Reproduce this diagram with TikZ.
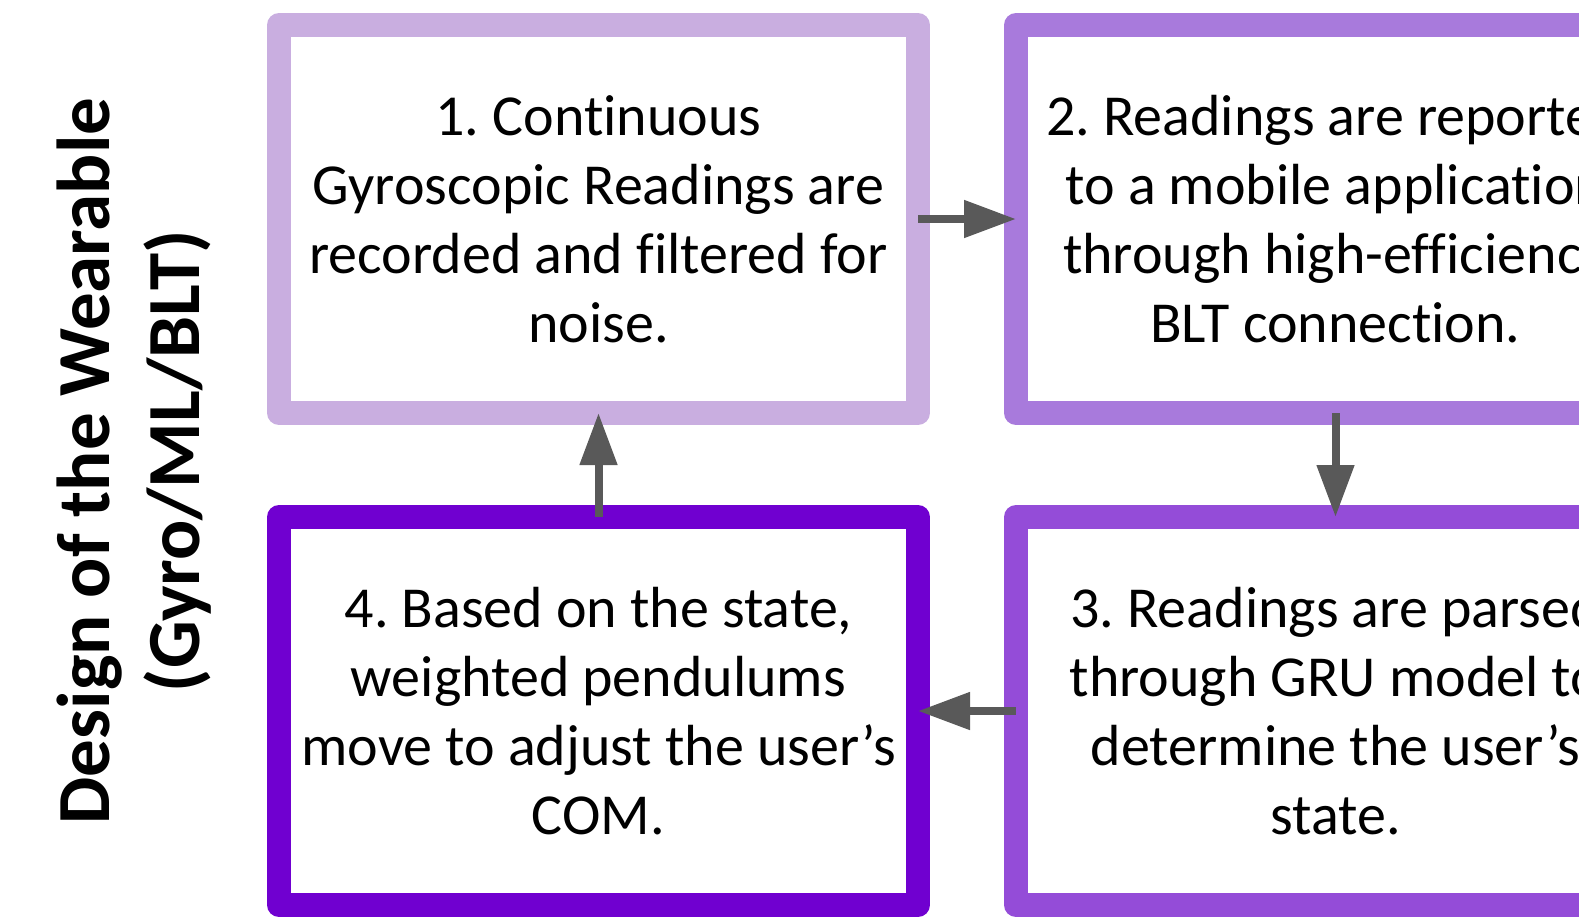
\documentclass[tikz,border=0pt]{standalone}
\usepackage{fontspec}
\setmainfont[Ligatures=NoCommon]{Carlito}
\usetikzlibrary{arrows.meta}
\frenchspacing
\definecolor{cA}{RGB}{201,174,224}
\definecolor{cB}{RGB}{168,122,220}
\definecolor{cC}{RGB}{148,76,216}
\definecolor{cD}{RGB}{112,0,208}
\definecolor{arr}{RGB}{89,89,89}
\tikzset{
  stepbox/.style={draw, line width=24pt, line join=round, outer sep=0pt,
    minimum width=639pt, minimum height=388pt, inner sep=0pt,
    align=center, font=\fontsize{58}{69}\selectfont},
  flow/.style={draw=arr, line width=8pt,
    -{Triangle[width=36pt,length=52pt]}, fill=arr}
}
\begin{document}
\begin{tikzpicture}[x=1pt,y=-1pt]
\useasboundingbox (0,0) rectangle (1579,919);
\clip (0,0) rectangle (1579,919);
\node[stepbox, draw=cA] (b1) at (598.5,219) {1. Continuous\\Gyroscopic Readings are\\recorded and filtered for\\noise.};
\node[stepbox, draw=cB] (b2) at (1335.5,219) {2. Readings are reported\\to a mobile application\\through high-efficiency\\BLT connection.};
\node[stepbox, draw=cC] (b3) at (1335.5,711) {3. Readings are parsed\\through GRU model to\\determine the user’s\\state.};
\node[stepbox, draw=cD] (b4) at (598.5,711) {4. Based on the state,\\weighted pendulums\\move to adjust the user’s\\COM.};
\node[rotate=90, align=center, font=\bfseries\fontsize{75}{90}\selectfont] (lab) at (134,461) {Design of the Wearable\\(Gyro/ML/BLT)};
\draw[flow] (b1.east) -- (b2.west);
\draw[flow] (b2.south) -- (b3.north);
\draw[flow] (b3.west) -- (b4.east);
\draw[flow] (b4.north) -- (b1.south);
\end{tikzpicture}
\end{document}
